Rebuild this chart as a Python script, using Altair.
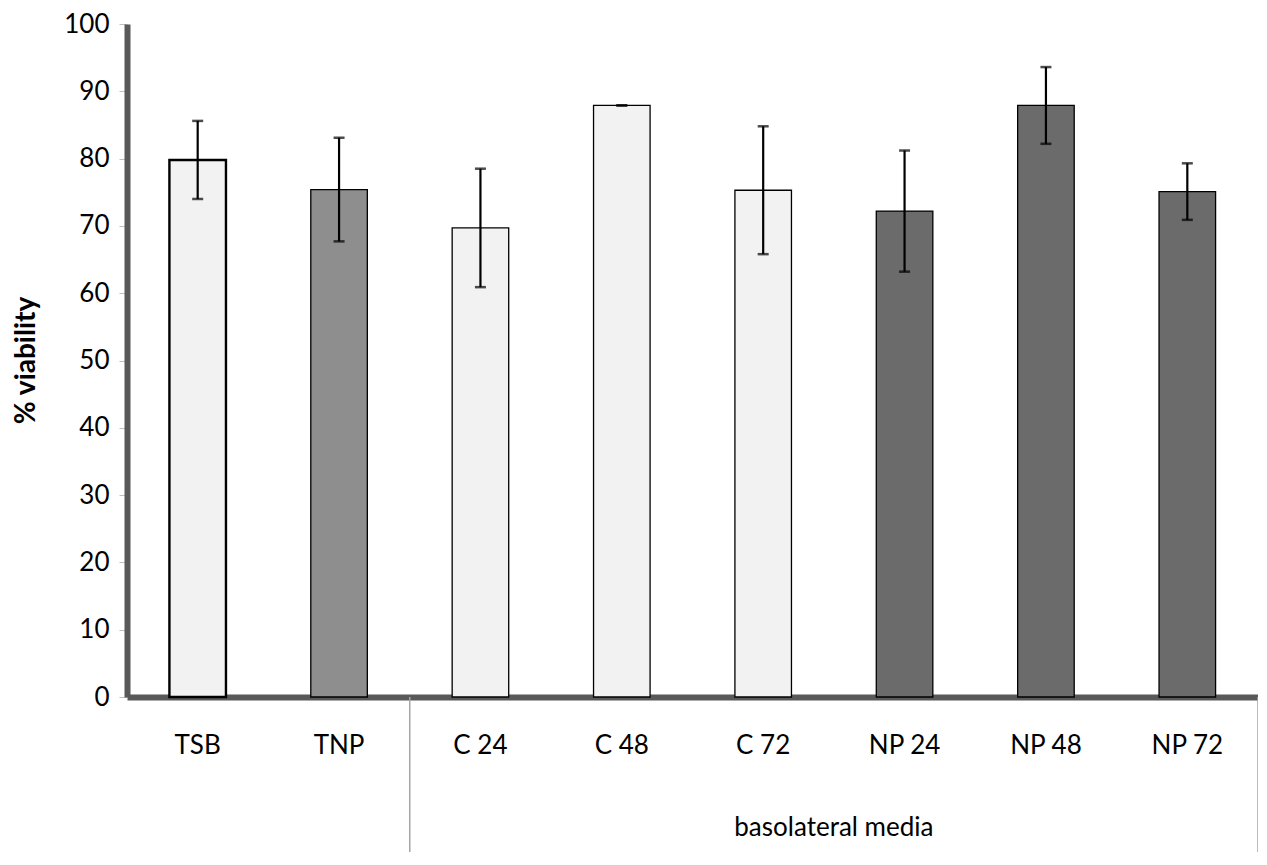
import altair as alt
import pandas as pd

categories = ["TSB", "TNP", "C 24", "C 48", "C 72", "NP 24", "NP 48", "NP 72"]
viability = [79.8, 75.4, 69.7, 87.9, 75.3, 72.2, 87.9, 75.1]
errors = [5.8, 7.7, 8.8, 0.0, 9.5, 9.0, 5.7, 4.2]
shade = ["light", "medium", "light", "light", "light", "dark", "dark", "dark"]
group_label = "basolateral media"
group_members = ["C 24", "C 48", "C 72", "NP 24", "NP 48", "NP 72"]
y_ticks = list(range(0, 101, 10))

df = pd.DataFrame({
    "cat": categories,
    "v": viability,
    "lo": [v - e for v, e in zip(viability, errors)],
    "hi": [v + e for v, e in zip(viability, errors)],
    "shade": shade,
})

FONT = "Lato"
W, H = 1131, 673

xscale = alt.Scale(domain=categories, paddingInner=0, paddingOuter=0)
yscale = alt.Scale(domain=[0, 100], nice=False)
xaxis = alt.Axis(
    title=None, labelAngle=0, labelFont=FONT, labelFontSize=26, labelColor="black",
    labelPadding=35, ticks=False, domainColor="#595959", domainWidth=6, grid=False,
)
yaxis = alt.Axis(
    values=y_ticks, title="% viability", titleFont=FONT, titleFontSize=28,
    titleFontWeight="bold", titleColor="black", titleX=-101, titleY=336,
    titleAngle=270, titleAlign="center", titleBaseline="middle",
    labelFont=FONT, labelFontSize=26, labelColor="black", labelPadding=10,
    tickSize=8, tickColor="#bfbfbf", tickWidth=1,
    domainColor="#595959", domainWidth=6, grid=False,
)


def xenc(**kw):
    return alt.X("cat:N", sort=categories, scale=xscale, axis=xaxis, **kw)


def yenc(field):
    return alt.Y(field, scale=yscale, axis=yaxis)


base = alt.Chart(df)

bars = base.mark_bar(width=alt.RelativeBandSize(0.4), stroke="black").encode(
    x=xenc(),
    y=yenc("v:Q"),
    fill=alt.Fill("shade:N", scale=alt.Scale(domain=["light", "medium", "dark"],
                                             range=["#f2f2f2", "#8e8e8e", "#6b6b6b"]),
                  legend=None),
    strokeWidth=alt.condition(alt.datum.cat == "TSB", alt.value(2.4), alt.value(1.3)),
)

err = base.mark_rule(color="black", strokeWidth=2.2).encode(
    x=xenc(), y=yenc("lo:Q"), y2="hi:Q"
)
cap_hi = base.mark_tick(color="black", thickness=2.5, size=11, orient="horizontal").encode(
    x=xenc(), y=yenc("hi:Q")
)
cap_lo = base.mark_tick(color="black", thickness=2.5, size=11, orient="horizontal").encode(
    x=xenc(), y=yenc("lo:Q")
)

sep_df_left = pd.DataFrame({"cat": [group_members[0]]})
sep_df_right = pd.DataFrame({"cat": [group_members[-1]]})
sep_left = alt.Chart(sep_df_left).mark_rule(color="#a6a6a6", strokeWidth=1.5).encode(
    x=xenc(bandPosition=0), y=alt.value(H), y2=alt.value(H + 155)
)
sep_right = alt.Chart(sep_df_right).mark_rule(color="#a6a6a6", strokeWidth=1.5).encode(
    x=xenc(bandPosition=1), y=alt.value(H), y2=alt.value(H + 155)
)

label_df = pd.DataFrame({"cat": [group_members[len(group_members) // 2]], "label": [group_label]})
group_text = alt.Chart(label_df).mark_text(
    font=FONT, fontSize=26, color="black", baseline="middle", align="center"
).encode(
    x=xenc(bandPosition=0), y=alt.value(804), text="label:N"
)

chart = alt.layer(bars, err, cap_hi, cap_lo, sep_left, sep_right, group_text).properties(
    width=W, height=H,
    background="white",
    autosize=alt.AutoSizeParams(type="none"),
    padding={"left": 119, "top": 16, "right": 0, "bottom": 155},
).configure_view(stroke="transparent", strokeWidth=0).configure_axis(grid=False)

chart.save("out.html", embed_options={"renderer": "svg", "actions": False})
